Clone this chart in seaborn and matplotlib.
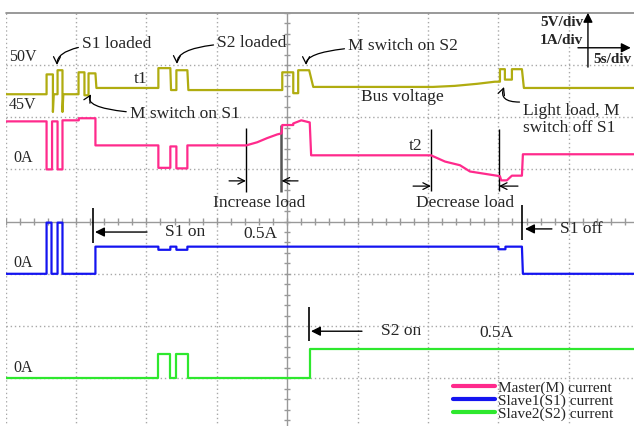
import numpy as np
import pandas as pd
import matplotlib
matplotlib.use('Agg')
import matplotlib.pyplot as plt
import seaborn as sns

# scope capture: 5 s/div, 5 V/div, 1 A/div
bus_t = [0, 2.91, 2.91, 3.36, 3.36, 3.42, 3.69, 3.69, 4.04, 4.04, 4.10, 5.18, 5.18, 5.60, 5.60,
         5.89, 5.89, 6.38, 6.45, 10.85, 10.85, 11.70, 11.75, 12.13, 12.13, 12.91, 12.98, 19.65,
         19.65, 20.43, 20.43, 20.78, 20.78, 21.56, 21.85, 30.35, 31.9, 33.5, 34.75, 35.11, 35.11,
         35.46, 35.46, 35.96, 35.96, 36.67, 36.81, 45.0]
bus_v = [47.2, 47.2, 49.1, 49.1, 45.5, 47.2, 47.2, 49.5, 49.5, 45.5, 47.2, 47.2, 49.3, 49.3, 47.1,
         47.1, 49.2, 49.2, 47.8, 47.8, 49.7, 49.7, 47.6, 47.6, 49.5, 49.5, 47.6, 47.6,
         49.3, 49.3, 47.3, 47.3, 49.5, 49.5, 47.9, 47.9, 48.0, 48.2, 48.4, 48.4, 49.6,
         49.6, 48.6, 48.6, 49.6, 49.6, 47.8, 47.8]

m_t = [0, 2.91, 2.91, 3.30, 3.30, 3.69, 3.69, 4.04, 4.04, 5.2, 5.2, 6.38, 6.38, 10.85, 10.85,
       11.70, 11.70, 12.13, 12.13, 12.91, 12.91, 17.09, 17.87, 18.58, 19.29, 19.6, 19.65, 20.43,
       20.43, 21.0, 21.6, 21.7, 30.21, 31.21, 32.27, 32.98, 34.4, 35.11, 35.2, 35.6, 35.96,
       36.67, 36.74, 45.0]
m_i = [0.92, 0.92, 0.0, 0.0, 0.92, 0.92, 0.0, 0.0, 0.94, 0.94, 0.98, 0.98, 0.46, 0.46, 0.03,
       0.03, 0.44, 0.44, 0.02, 0.02, 0.46, 0.46, 0.52, 0.60, 0.67, 0.69, 0.85, 0.85,
       0.88, 0.94, 0.90, 0.27, 0.27, 0.15, 0.08, -0.04, -0.10, -0.13, -0.21, -0.21, -0.12,
       -0.12, 0.29, 0.29]

s1_t = [0, 2.91, 2.91, 3.26, 3.26, 3.69, 3.69, 4.04, 4.04, 6.38, 6.38, 10.85, 10.85, 11.70,
        11.70, 12.13, 12.13, 12.91, 12.91, 35.0, 35.0, 35.5, 35.5, 36.67, 36.74, 45.0]
s1_i = [0, 0, 0.98, 0.98, 0, 0, 0.98, 0.98, 0, 0, 0.52, 0.52, 0.46, 0.46,
        0.52, 0.52, 0.46, 0.46, 0.52, 0.52, 0.47, 0.47, 0.52, 0.52, 0, 0]

s2_t = [0, 10.85, 10.85, 11.70, 11.70, 12.13, 12.13, 12.98, 12.98, 21.63, 21.63, 45.0]
s2_i = [0, 0, 0.46, 0.46, 0, 0, 0.46, 0.46, 0, 0, 0.55, 0.55]

channels = ['Master(M) current', 'Slave1(S1) current', 'Slave2(S2) current']
zero_div = [5, 3, 1]  # screen division of 0A for each current channel
palette = ['#ff2a8c', '#1414f0', '#2ee82e']
bus_color = '#b0ac10'

sns.set_style('white')
plt.rcParams['font.family'] = ['Liberation Serif', 'DejaVu Serif']
plt.rcParams['font.size'] = 12

frames = []
for name, t, i, z in zip(channels, [m_t, s1_t, s2_t], [m_i, s1_i, s2_i], zero_div):
    frames.append(pd.DataFrame({'t': t, 'div': np.array(i) + z, 'channel': name}))
currents = pd.concat(frames, ignore_index=True)

fig = plt.figure(figsize=(6.34, 4.26), dpi=100)
ax = fig.add_axes([5.6 / 634, 1 - 12.8 / 426 - 417.6 / 426, 704 / 634, 417.6 / 426])

# screen grid (visible part of the scope screen, centre line at 20 s)
grid_c = '#a8a8a8'
for k in range(0, 10):
    if k == 4:
        ax.axvline(20, color='#999999', lw=1, zorder=1)
    else:
        ax.axvline(5 * k, color=grid_c, lw=1, ls=(0, (1, 2)), zorder=1)
for j in range(1, 8):
    if j == 4:
        ax.axhline(4, color='#999999', lw=1, zorder=1)
    else:
        ax.axhline(j, color=grid_c, lw=1, ls=(0, (1, 2)), zorder=1)
ax.axhline(8, color='#888888', lw=1.2, zorder=1, clip_on=False)
tx = np.arange(0, 50.01, 1.0)
ax.vlines(tx, 4 - 0.06, 4 + 0.06, color='#999999', lw=1, zorder=1)
ty = np.arange(0, 8.01, 0.2)
ax.hlines(ty, 20 - 0.2, 20 + 0.2, color='#999999', lw=1, zorder=1)

sns.lineplot(x=bus_t, y=7 + (np.array(bus_v) - 50) / 5, color=bus_color, lw=1.6,
             estimator=None, sort=False, ax=ax, zorder=3)
sns.lineplot(data=currents, x='t', y='div', hue='channel', palette=palette, lw=1.6,
             estimator=None, sort=False, ax=ax, zorder=3)

ax.set_xlim(0, 50)
ax.set_ylim(0, 8)
ax.set_xticks([])
ax.set_yticks([])
ax.set_xlabel('')
ax.set_ylabel('')
for s in ax.spines.values():
    s.set_visible(False)

leg = ax.legend(loc='upper left', bbox_to_anchor=(31.75 / 50, 0.95 / 8), frameon=False,
                fontsize=11, labelspacing=-0.05, handlelength=2.8, handletextpad=0.15,
                borderaxespad=0, borderpad=0)
for ln in leg.get_lines():
    ln.set_linewidth(3)

# channel level labels
for txt, y in [('50V', 7.15), ('45V', 6.23)]:
    ax.text(0.24, y, txt, ha='left', va='center', fontsize=11.5)
for y in [5.22, 3.21, 1.20]:
    ax.text(0.53, y, '0A', ha='left', va='center', fontsize=11.5)

# curved callouts
callouts = [
    ('S1 loaded', (3.65, 7.0), (5.4, 7.40), 'angle3,angleA=0,angleB=90'),
    ('S2 loaded', (12.17, 7.02), (15.0, 7.42), 'angle3,angleA=0,angleB=90'),
    ('M switch on S1', (6.07, 6.44), (8.8, 6.06), 'angle3,angleA=0,angleB=60'),
    ('M switch on S2', (21.34, 7.0), (24.3, 7.36), 'angle3,angleA=0,angleB=90'),
]
for txt, tip, pos, cs in callouts:
    ax.annotate(txt, xy=tip, xytext=pos, ha='left', va='center', fontsize=12.5,
                arrowprops=dict(arrowstyle='->', lw=0.9, color='black', connectionstyle=cs,
                                shrinkA=0, shrinkB=0))

ax.annotate('Light load, M\nswitch off S1', xy=(35.4, 6.58), xytext=(36.75, 5.96),
            ha='left', va='center', fontsize=12.5, linespacing=1.05)
ax.annotate('', xy=(35.4, 6.58), xytext=(36.5, 6.29),
            arrowprops=dict(arrowstyle='->', lw=0.9, color='black',
                            connectionstyle='angle3,angleA=0,angleB=70', shrinkA=0, shrinkB=0))

ax.text(9.62, 6.73, 't1', ha='center', va='center', fontsize=12.5)
ax.text(29.15, 5.45, 't2', ha='center', va='center', fontsize=12.5)
ax.text(28.15, 6.39, 'Bus voltage', ha='center', va='center', fontsize=12.5)

# load change markers
ax.vlines([17.07, 30.21, 35.04], [4.57, 4.59, 4.59], [5.79, 5.77, 5.77], color='black', lw=1)
ax.vlines([19.56], [4.57], [5.85], color='#555555', lw=1.8)
for x0, x1, y in [(15.87, 17.07, 4.78), (20.77, 19.6, 4.78), (28.94, 30.21, 4.68), (36.39, 35.04, 4.68)]:
    ax.annotate('', xy=(x1, y), xytext=(x0, y),
                arrowprops=dict(arrowstyle='->', lw=0.9, color='black', shrinkA=0, shrinkB=0))
ax.text(18.0, 4.36, 'Increase load', ha='center', va='center', fontsize=12.5)
ax.text(32.6, 4.36, 'Decrease load', ha='center', va='center', fontsize=12.5)

# on/off markers
for xl, y0, y1, xs, xe, ya, txt, xt in [(6.21, 3.59, 4.26, 10.04, 6.35, 3.80, 'S1 on', 11.32),
                                        (36.68, 3.65, 4.32, 38.8, 36.89, 3.86, 'S1 off', 39.38),
                                        (21.55, 1.71, 2.36, 25.31, 21.69, 1.90, 'S2 on', 26.66)]:
    ax.vlines([xl], [y0], [y1], color='black', lw=1.2)
    ax.annotate('', xy=(xe, ya), xytext=(xs, ya),
                arrowprops=dict(arrowstyle='-|>', lw=1, color='black', shrinkA=0, shrinkB=0,
                                mutation_scale=14))
    ax.text(xt, ya, txt, ha='left', va='center', fontsize=12.5)
ax.text(16.86, 3.76, '0.5A', ha='left', va='center', fontsize=12.5)
ax.text(33.62, 1.87, '0.5A', ha='left', va='center', fontsize=12.5)

# scale indicator
ax.text(37.95, 7.81, '5V/div', ha='left', va='center', fontsize=11, fontweight='bold')
ax.text(37.95, 7.46, '1A/div', ha='left', va='center', fontsize=11, fontweight='bold')
ax.text(41.72, 7.10, '5s/div', ha='left', va='center', fontsize=11, fontweight='bold')
ax.annotate('', xy=(41.36, 8.0), xytext=(41.36, 6.96),
            arrowprops=dict(arrowstyle='-|>', lw=1, color='black', shrinkA=0, shrinkB=0,
                            mutation_scale=14), annotation_clip=False)
ax.annotate('', xy=(44.4, 7.33), xytext=(40.65, 7.33),
            arrowprops=dict(arrowstyle='-|>', lw=1, color='black', shrinkA=0, shrinkB=0,
                            mutation_scale=14))

fig.savefig('out.png', dpi=100)
